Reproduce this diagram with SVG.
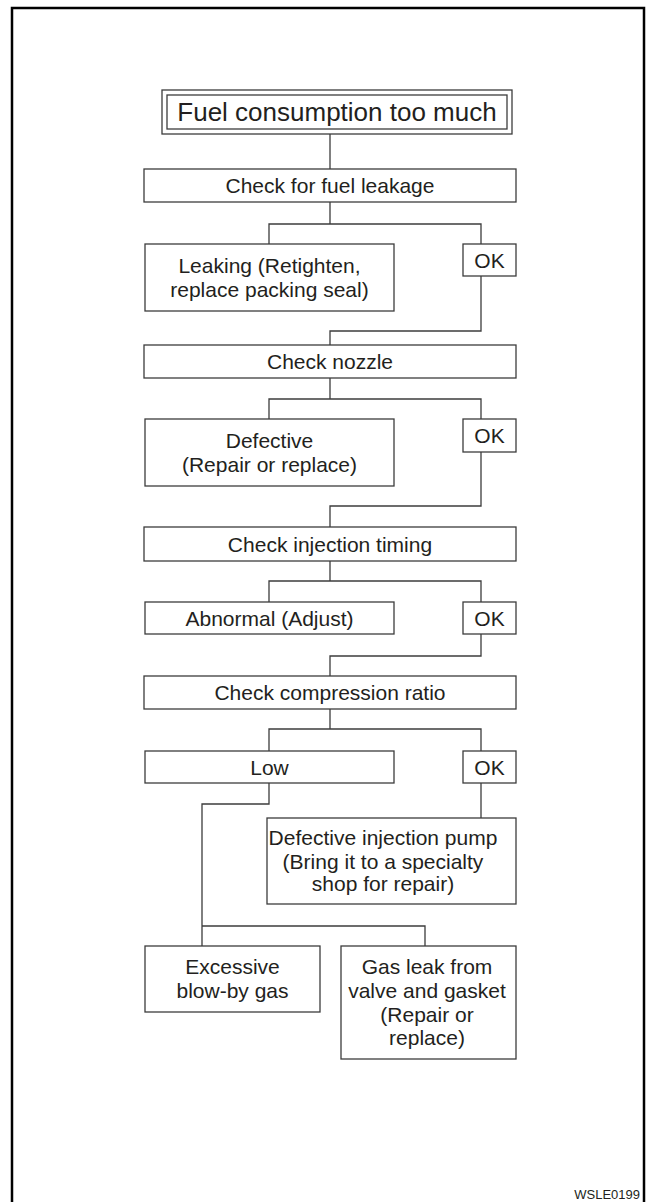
<svg xmlns="http://www.w3.org/2000/svg" width="653" height="1202" viewBox="0 0 653 1202">
<style>
.b{fill:#fff;stroke:#3c3c3c;stroke-width:1.3}
.t{font-family:"Liberation Sans",Arial,sans-serif;font-size:21px;fill:#231f20;text-anchor:middle}
.c{fill:none;stroke:#3c3c3c;stroke-width:1.3}
</style>
<rect x="0" y="0" width="653" height="1202" fill="#fff"/>
<rect x="12" y="8" width="632" height="1220" fill="none" stroke="#000" stroke-width="2.5"/>
<g id="connectors">
<path class="c" d="M330 134V169"/>
<path class="c" d="M330 202V224M269 244V224H481V244"/>
<path class="c" d="M481 276V331H330V345"/>
<path class="c" d="M330 378V399M269 419V399H481V419"/>
<path class="c" d="M481 452V506H330V527"/>
<path class="c" d="M330 561V581M269 602V581H481V602"/>
<path class="c" d="M481 634V656H330V676"/>
<path class="c" d="M330 709V729M269 751V729H481V751"/>
<path class="c" d="M481 783V818"/>
<path class="c" d="M269 783V804H202V946M202 926H425V946"/>
</g>
<g id="n_title">
<rect class="b" x="162" y="90" width="350" height="44"/>
<rect class="b" x="167" y="95" width="340" height="34"/>
<text class="t" x="337" y="121" style="font-size:26px">Fuel consumption too much</text>
</g>
<g id="n_check_leak">
<rect class="b" x="144" y="169" width="372" height="33"/>
<text class="t" x="330" y="193">Check for fuel leakage</text>
</g>
<g id="n_leaking">
<rect class="b" x="145" y="244" width="249" height="67"/>
<text class="t" x="269.5" y="273">Leaking (Retighten,</text>
<text class="t" x="269.5" y="297">replace packing seal)</text>
</g>
<g id="n_ok1">
<rect class="b" x="463" y="244" width="53" height="32"/>
<text class="t" x="489.5" y="267.5">OK</text>
</g>
<g id="n_check_nozzle">
<rect class="b" x="144" y="345" width="372" height="33"/>
<text class="t" x="330" y="369">Check nozzle</text>
</g>
<g id="n_defective">
<rect class="b" x="145" y="419" width="249" height="67"/>
<text class="t" x="269.5" y="448">Defective</text>
<text class="t" x="269.5" y="472">(Repair or replace)</text>
</g>
<g id="n_ok2">
<rect class="b" x="463" y="419" width="53" height="33"/>
<text class="t" x="489.5" y="443">OK</text>
</g>
<g id="n_check_timing">
<rect class="b" x="144" y="527" width="372" height="34"/>
<text class="t" x="330" y="551.5">Check injection timing</text>
</g>
<g id="n_abnormal">
<rect class="b" x="145" y="602" width="249" height="32"/>
<text class="t" x="269.5" y="625.5">Abnormal (Adjust)</text>
</g>
<g id="n_ok3">
<rect class="b" x="463" y="602" width="53" height="32"/>
<text class="t" x="489.5" y="625.5">OK</text>
</g>
<g id="n_check_compression">
<rect class="b" x="144" y="676" width="372" height="33"/>
<text class="t" x="330" y="700">Check compression ratio</text>
</g>
<g id="n_low">
<rect class="b" x="145" y="751" width="249" height="32"/>
<text class="t" x="269.5" y="774.5">Low</text>
</g>
<g id="n_ok4">
<rect class="b" x="463" y="751" width="53" height="32"/>
<text class="t" x="489.5" y="774.5">OK</text>
</g>
<g id="n_pump">
<rect class="b" x="267" y="818" width="249" height="86"/>
<text class="t" x="383" y="845">Defective injection pump</text>
<text class="t" x="383" y="868.5">(Bring it to a specialty</text>
<text class="t" x="383" y="891">shop for repair)</text>
</g>
<g id="n_blowby">
<rect class="b" x="145" y="946" width="175" height="66"/>
<text class="t" x="232.5" y="974">Excessive</text>
<text class="t" x="232.5" y="998">blow-by gas</text>
</g>
<g id="n_gasleak">
<rect class="b" x="341" y="946" width="175" height="113"/>
<text class="t" x="427" y="974">Gas leak from</text>
<text class="t" x="427" y="998">valve and gasket</text>
<text class="t" x="427" y="1021.5">(Repair or</text>
<text class="t" x="427" y="1045">replace)</text>
</g>
<text x="640" y="1199" style="font-family:'Liberation Sans',Arial,sans-serif;font-size:13px;fill:#231f20;text-anchor:end">WSLE0199</text>
</svg>
